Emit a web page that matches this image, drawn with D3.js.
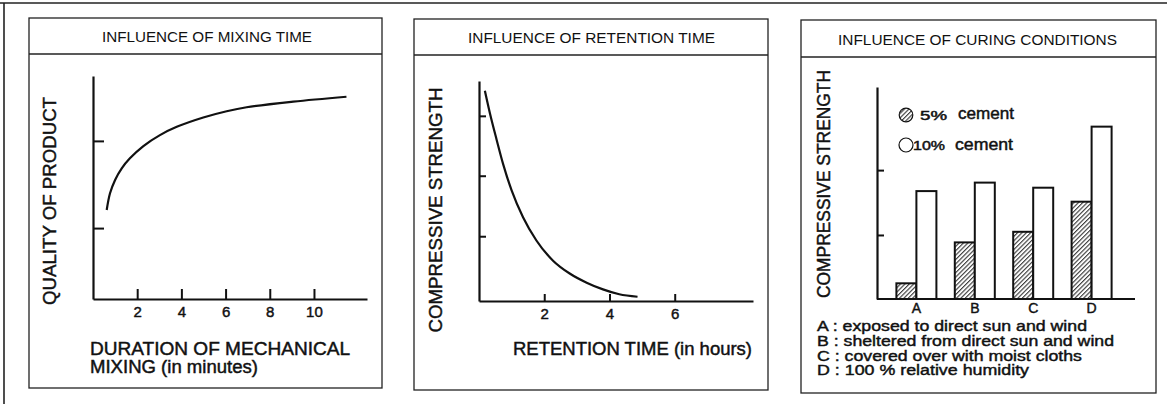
<!DOCTYPE html>
<html>
<head>
<meta charset="utf-8">
<script src="https://cdn.jsdelivr.net/npm/d3@7"></script>
<style>
  html, body { margin: 0; padding: 0; background: #fff; }
  svg { display: block; }
  text { font-family: "Liberation Sans", Arial, Helvetica, sans-serif; fill: #111; }
  text.heavy { stroke: #111; stroke-width: 0.45px; }
</style>
</head>
<body>
<svg id="fig" width="1167" height="404"></svg>
<script>
// ---- Panel 1: influence of mixing time ----
const mixMinutes = [0.62, 0.77, 1.00, 1.30, 1.67, 2.28, 3.03, 3.79, 4.99, 6.05, 6.95, 9.06, 11.47];
const mixQuality = [3.99, 4.74, 5.34, 5.86, 6.31, 6.86, 7.35, 7.72, 8.14, 8.42, 8.60, 8.85, 9.07];
const mixXTicks = [2, 4, 6, 8, 10];
const mixYTicks = [3.18, 7.09];

// ---- Panel 2: influence of retention time ----
const retHours = [0.18, 0.34, 0.54, 0.74, 1.00, 1.35, 1.76, 2.27, 2.78, 3.30, 3.80, 4.30, 4.86];
const retStrength = [3.44, 3.06, 2.64, 2.24, 1.81, 1.37, 0.99, 0.66, 0.45, 0.30, 0.19, 0.11, 0.07];
const retXTicks = [2, 4, 6];
const retYTicks = [1.06, 2.05, 3.03];

// ---- Panel 3: influence of curing conditions ----
const curingCategories = ["A", "B", "C", "D"];
const cement5 = [0.74, 2.67, 3.17, 4.59];
const cement10 = [5.09, 5.49, 5.25, 8.13];
const curingYTicks = [3.02, 6.08];
const curingNotes = [
  "A : exposed to direct sun and wind",
  "B : sheltered from direct sun and wind",
  "C : covered over with moist cloths",
  "D : 100 % relative humidity"
];

const titles = ["INFLUENCE OF MIXING TIME", "INFLUENCE OF RETENTION TIME", "INFLUENCE OF CURING CONDITIONS"];

const svg = d3.select("#fig");

// hatch for the 5% cement bars
const defs = svg.append("defs");
defs.append("pattern")
  .attr("id", "hatch")
  .attr("patternUnits", "userSpaceOnUse")
  .attr("width", 3.1).attr("height", 6)
  .attr("patternTransform", "rotate(45)")
  .append("line")
  .attr("x1", 0.6).attr("y1", 0).attr("x2", 0.6).attr("y2", 6)
  .attr("stroke", "#222").attr("stroke-width", 1);

// outer frame (top and left edges)
svg.append("line").attr("x1", 0).attr("x2", 1167).attr("y1", 3).attr("y2", 3)
  .attr("stroke", "#222").attr("stroke-width", 1.6);
svg.append("line").attr("x1", 4).attr("x2", 4).attr("y1", 3).attr("y2", 404)
  .attr("stroke", "#222").attr("stroke-width", 1.6);

// panel boxes with title strip
const frames = [
  { x0: 29, x1: 382, y0: 18, y1: 388, sep: 54, tx: 207, ty: 41.5, tw: 210 },
  { x0: 414, x1: 768, y0: 19, y1: 390, sep: 55, tx: 591.5, ty: 43, tw: 247 },
  { x0: 801, x1: 1156, y0: 20, y1: 393, sep: 57, tx: 977.5, ty: 45, tw: 279 }
];
frames.forEach((f, i) => {
  svg.append("rect").attr("x", f.x0).attr("y", f.y0)
    .attr("width", f.x1 - f.x0).attr("height", f.y1 - f.y0)
    .attr("fill", "none").attr("stroke", "#222").attr("stroke-width", 1.3);
  svg.append("line").attr("x1", f.x0).attr("x2", f.x1).attr("y1", f.sep).attr("y2", f.sep)
    .attr("stroke", "#222").attr("stroke-width", 1.3);
  svg.append("text").attr("x", f.tx).attr("y", f.ty)
    .attr("text-anchor", "middle").attr("font-size", 15)
    .attr("textLength", f.tw).attr("lengthAdjust", "spacingAndGlyphs")
    .text(titles[i]);
});

function styleAxis(g) {
  g.select(".domain").attr("stroke", "#111").attr("stroke-width", 2.2);
  g.selectAll(".tick line").attr("stroke", "#111").attr("stroke-width", 2);
  g.selectAll(".tick text").attr("class", "heavy").attr("font-size", 15).attr("fill", "#111")
    .attr("font-family", "'Liberation Sans', Arial, sans-serif");
}

function rotatedLabel(x, y, len, size, txt) {
  svg.append("text").attr("class", "heavy")
    .attr("transform", `translate(${x},${y}) rotate(-90)`)
    .attr("text-anchor", "middle").attr("dominant-baseline", "central")
    .attr("font-size", size)
    .attr("textLength", len).attr("lengthAdjust", "spacingAndGlyphs")
    .text(txt);
}

function textAt(x, y, size, len, txt) {
  const t = svg.append("text").attr("class", "heavy")
    .attr("x", x).attr("y", y).attr("font-size", size).text(txt);
  if (len) t.attr("textLength", len).attr("lengthAdjust", "spacingAndGlyphs");
  return t;
}

const smooth = d3.curveCatmullRom.alpha(0.5);

// ================= Panel 1 =================
{
  const x = d3.scaleLinear().domain([0, 12.4]).range([93, 367]);
  const y = d3.scaleLinear().domain([0, 10]).range([299, 76]);
  svg.append("g").attr("transform", `translate(0,${y(0)})`)
    .call(d3.axisBottom(x).tickValues(mixXTicks).tickSize(-10).tickSizeOuter(0).tickPadding(7))
    .call(styleAxis);
  svg.append("g").attr("transform", `translate(${x(0)},0)`)
    .call(d3.axisLeft(y).tickValues(mixYTicks).tickSize(-11).tickSizeOuter(0).tickFormat(""))
    .call(styleAxis);
  svg.append("path")
    .datum(mixMinutes.map((m, i) => [m, mixQuality[i]]))
    .attr("fill", "none").attr("stroke", "#111").attr("stroke-width", 2.2)
    .attr("d", d3.line().x(d => x(d[0])).y(d => y(d[1])).curve(smooth));
  rotatedLabel(49, 201, 208, 18.5, "QUALITY OF PRODUCT");
  textAt(90, 355, 18, 260, "DURATION OF MECHANICAL");
  textAt(90, 373, 18, 168, "MIXING (in minutes)");
}

// ================= Panel 2 =================
{
  const x = d3.scaleLinear().domain([0, 8.4]).range([479, 753]);
  const y = d3.scaleLinear().domain([0, 3.6]).range([301, 81]);
  svg.append("g").attr("transform", `translate(0,${y(0)})`)
    .call(d3.axisBottom(x).tickValues(retXTicks).tickSize(-7).tickSizeOuter(0).tickPadding(7))
    .call(styleAxis);
  svg.append("g").attr("transform", `translate(${x(0)},0)`)
    .call(d3.axisLeft(y).tickValues(retYTicks).tickSize(-7).tickSizeOuter(0).tickFormat(""))
    .call(styleAxis);
  svg.append("path")
    .datum(retHours.map((h, i) => [h, retStrength[i]]))
    .attr("fill", "none").attr("stroke", "#111").attr("stroke-width", 2.2)
    .attr("d", d3.line().x(d => x(d[0])).y(d => y(d[1])).curve(d3.curveMonotoneX));
  rotatedLabel(435, 210, 245, 18.5, "COMPRESSIVE STRENGTH");
  textAt(513, 355, 18, 239, "RETENTION TIME (in hours)");
}

// ================= Panel 3 =================
{
  const x = d3.scaleBand().domain(curingCategories).range([878, 1130]).padding(0.315);
  const y = d3.scaleLinear().domain([0, 10]).range([299, 87]);
  const bw = x.bandwidth() / 2;

  svg.append("g").attr("transform", `translate(0,${y(0)})`)
    .call(d3.axisBottom(x).tickSize(0).tickSizeOuter(0).tickPadding(4))
    .call(g => g.select(".domain").attr("d", `M877,0H1135`))
    .call(styleAxis)
    .call(g => g.selectAll(".tick text").attr("font-size", 14));
  svg.append("g").attr("transform", `translate(877,0)`)
    .call(d3.axisLeft(y).tickValues(curingYTicks).tickSize(-7).tickSizeOuter(0).tickFormat(""))
    .call(styleAxis);

  const groups = svg.append("g").selectAll("g").data(curingCategories).join("g");
  groups.append("rect")
    .attr("x", d => x(d)).attr("width", bw)
    .attr("y", (d, i) => y(cement5[i])).attr("height", (d, i) => y(0) - y(cement5[i]))
    .attr("fill", "url(#hatch)").attr("stroke", "#111").attr("stroke-width", 2);
  groups.append("rect")
    .attr("x", d => x(d) + bw).attr("width", bw)
    .attr("y", (d, i) => y(cement10[i])).attr("height", (d, i) => y(0) - y(cement10[i]))
    .attr("fill", "#fff").attr("stroke", "#111").attr("stroke-width", 2);

  // legend
  svg.append("circle").attr("cx", 906).attr("cy", 115).attr("r", 6.8)
    .attr("fill", "url(#hatch)").attr("stroke", "#111").attr("stroke-width", 1.2);
  textAt(920, 119.5, 12, 27, "5%");
  textAt(958, 119, 16, 56, "cement");
  svg.append("circle").attr("cx", 906).attr("cy", 145).attr("r", 7)
    .attr("fill", "#fff").attr("stroke", "#111").attr("stroke-width", 1.2);
  textAt(913, 150, 12, 32, "10%");
  textAt(955, 150, 16, 58, "cement");

  rotatedLabel(823.5, 184, 228, 17.5, "COMPRESSIVE STRENGTH");

  const noteWidths = [270, 297, 265, 212];
  curingNotes.forEach((n, i) => textAt(817, 331 + i * 14.8, 15.5, noteWidths[i], n));
}
</script>
</body>
</html>
